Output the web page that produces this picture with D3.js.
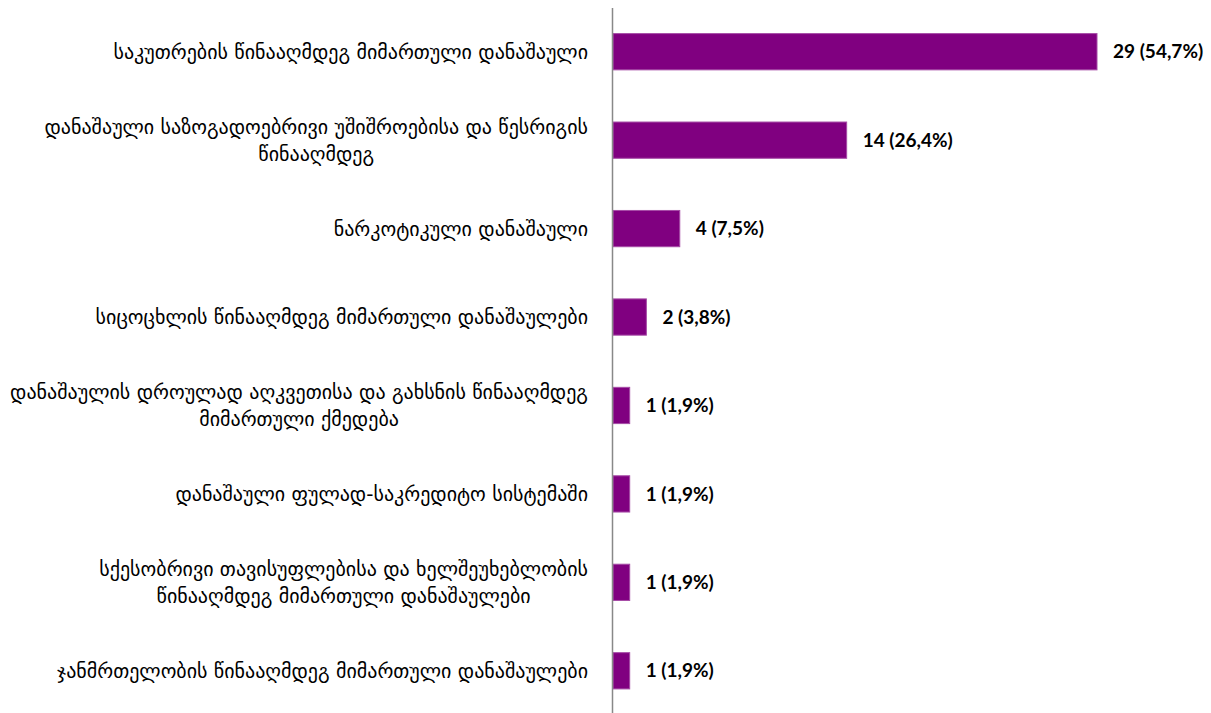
<!DOCTYPE html>
<html><head><meta charset="utf-8">
<script src="https://cdn.jsdelivr.net/npm/d3@7"></script>
<style>body{margin:0;background:#fff}svg{display:block}</style>
</head><body>
<svg id="c" width="1211" height="713"></svg>
<script>
const categories = [
  ["საკუთრების წინააღმდეგ მიმართული დანაშაული"],
  ["დანაშაული საზოგადოებრივი უშიშროებისა და წესრიგის", "წინააღმდეგ"],
  ["ნარკოტიკული დანაშაული"],
  ["სიცოცხლის წინააღმდეგ მიმართული დანაშაულები"],
  ["დანაშაულის დროულად აღკვეთისა და გახსნის წინააღმდეგ", "მიმართული ქმედება"],
  ["დანაშაული ფულად-საკრედიტო სისტემაში"],
  ["სქესობრივი თავისუფლებისა და ხელშეუხებლობის", "წინააღმდეგ მიმართული დანაშაულები"],
  ["ჯანმრთელობის წინააღმდეგ მიმართული დანაშაულები"]
];
const values = [29, 14, 4, 2, 1, 1, 1, 1];
const valueLabels = ["29 (54,7%)", "14 (26,4%)", "4 (7,5%)", "2 (3,8%)", "1 (1,9%)", "1 (1,9%)", "1 (1,9%)", "1 (1,9%)"];

const svg = d3.select("#c");
const x0 = 613, labelRight = 588;
const x = d3.scaleLinear().domain([0, 29]).range([x0, 1097]);
const y = d3.scaleBand().domain(d3.range(values.length)).range([7.5, 715]).paddingInner(0.59).paddingOuter(0.295);

svg.selectAll("rect.bar").data(values).join("rect")
  .attr("class", "bar")
  .attr("x", x(0))
  .attr("y", (d, i) => y(i))
  .attr("width", d => x(d) - x(0))
  .attr("height", y.bandwidth())
  .attr("fill", "#800080")
  .attr("stroke", "#a64ca6")
  .attr("stroke-width", 1);

svg.append("line").attr("x1", 612.5).attr("x2", 612.5).attr("y1", 8).attr("y2", 713)
  .attr("stroke", "#888").attr("stroke-width", 1.5);

svg.selectAll("text.val").data(values).join("text")
  .attr("class", "val")
  .attr("x", d => x(d) + 16)
  .attr("y", (d, i) => y(i) + y.bandwidth() / 2)
  .attr("dy", "0.35em")
  .attr("font-family", "Lato, sans-serif")
  .attr("font-weight", "bold")
  .attr("font-size", 19)
  .attr("fill", "#000")
  .text((d, i) => valueLabels[i]);

const lh = 27;
categories.forEach((lines, i) => {
  const cy = y(i) + y.bandwidth() / 2;
  const g = svg.append("g");
  const ts = lines.map((ln, j) => g.append("text")
    .attr("y", cy + (j - (lines.length - 1) / 2) * lh)
    .attr("dy", "0.35em")
    .attr("text-anchor", "middle")
    .attr("font-family", "DejaVu Sans, sans-serif")
    .attr("font-size", 20)
    .attr("fill", "#000")
    .text(ln));
  const w = d3.max(ts, t => t.node().getComputedTextLength());
  ts.forEach(t => t.attr("x", labelRight - w / 2));
});
</script>
</body></html>
